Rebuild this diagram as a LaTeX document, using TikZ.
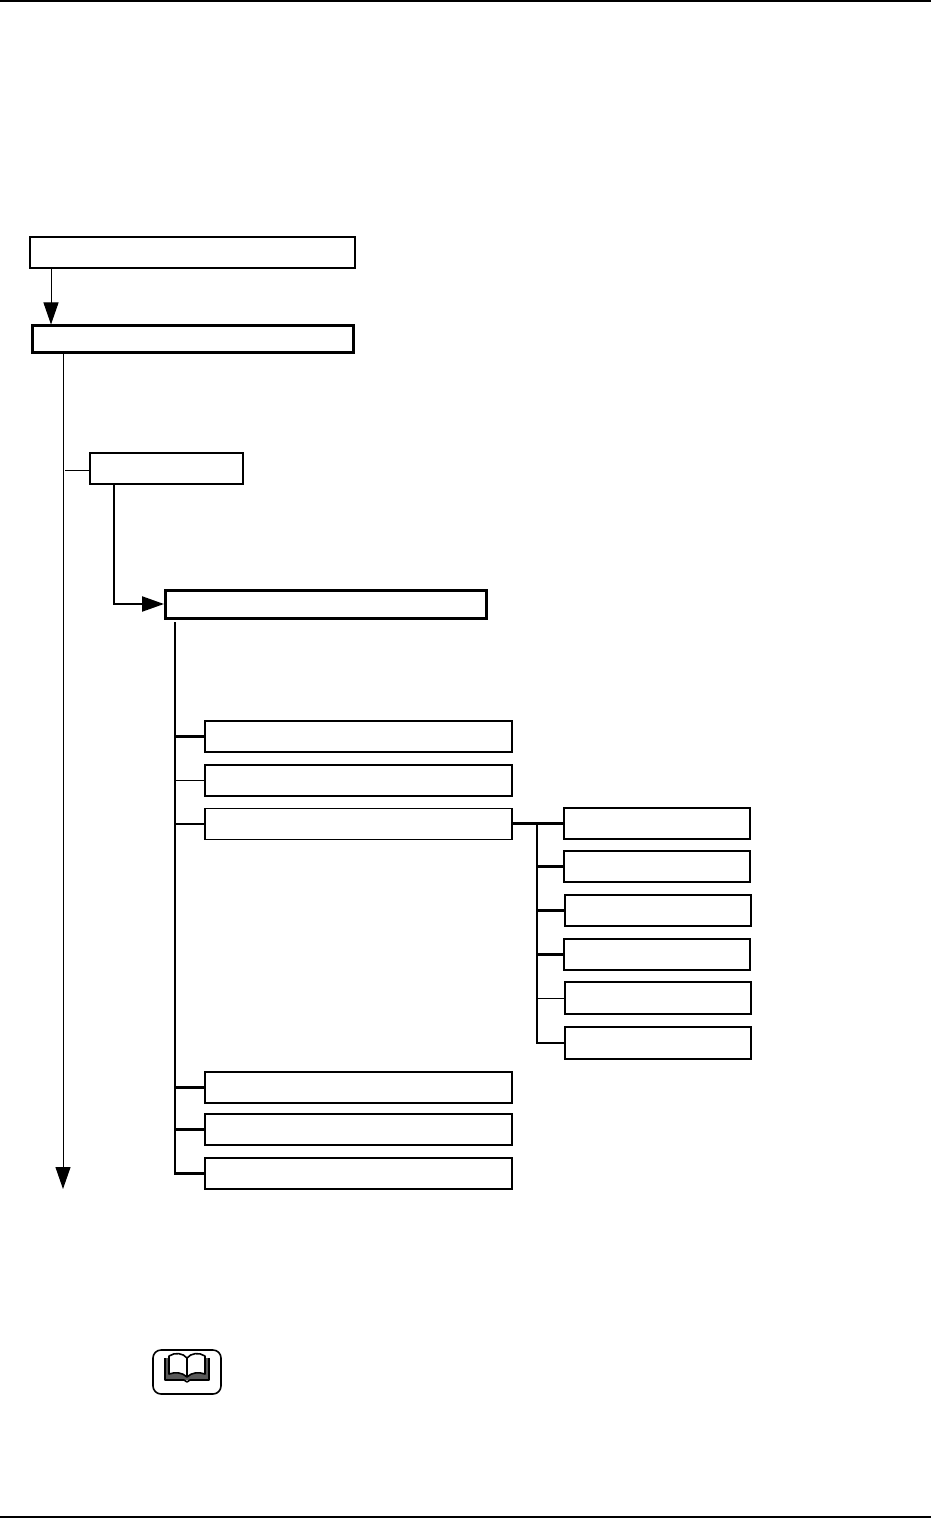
\documentclass[tikz,border=0pt]{standalone}
\usepackage{tikz}
\usetikzlibrary{arrows.meta}
\tikzset{
	item/.style = {draw, line width = 0.7pt, inner sep = 0pt, minimum height = 15.5pt},
	keybox/.style = {draw, line width = 1.5pt, inner sep = 0pt, minimum width = 160.5pt, minimum height = 13.5pt},
	wide/.style = {item, minimum width = 153.5pt},
	narrow/.style = {item, minimum width = 93pt},
	link/.style = {line width = 1.1pt},
	tick/.style = {line width = 0.5pt},
	flow/.style = {-{Triangle[length = 11pt, width = 7.5pt]}, tick},
	rule/.style = {line width = 1pt},
	bookline/.style = {line width = 0.8pt, line join = round}
}

\begin{document}
\begin{tikzpicture}[x = 0.5pt, y = -0.5pt]
		\useasboundingbox (0, 0) rectangle (931, 1518);
		%%%%%%%%%%%%%
		\coordinate (ruleTL) at (0, 1); \coordinate (ruleTR) at (931, 1);
		\coordinate (ruleBL) at (0, 1516.5); \coordinate (ruleBR) at (931, 1516.5);
		\coordinate (mainEnd) at (63, 1189);
		\coordinate (topDrop) at (51, 0);
		\coordinate (subDrop) at (114, 0);
		\coordinate (subTick) at (65, 470);
		\coordinate (trunkTop) at (175, 622);
		\coordinate (forkTop) at (537, 823.5);
		%%%%%%%%%%%%%
		\node [item, minimum width = 162.5pt] (top) at (192.5, 252.5) {};
		\node [keybox] (main) at (193, 339.5) {};
		\node [item, minimum width = 76.5pt] (sub) at (166.5, 468.5) {};
		\node [keybox, minimum height = 14pt] (group) at (326, 604) {};
		%%%%%%%%%%%%%
		\node [wide] (g1) at (358.5, 736.5) {};
		\node [wide] (g2) at (358.5, 780.5) {};
		\node [wide] (g3) at (358.5, 824) {};
		\node [wide] (g4) at (358.5, 1087.5) {};
		\node [wide] (g5) at (358.5, 1129.5) {};
		\node [wide] (g6) at (358.5, 1173.5) {};
		%%%%%%%%%%%%%
		\node [narrow] (r1) at (657, 823.5) {};
		\node [narrow] (r2) at (657, 866.5) {};
		\node [narrow] (r3) at (658, 910.5) {};
		\node [narrow] (r4) at (657, 954.5) {};
		\node [narrow, minimum height = 16pt] (r5) at (658, 998) {};
		\node [narrow, minimum height = 16pt] (r6) at (658, 1043) {};
		%%%%%%%%%%%%%
		\draw [rule] (ruleTL) to (ruleTR);
		\draw [rule] (ruleBL) to (ruleBR);
		\draw [flow] (top.south -| topDrop) to (main.north -| topDrop);
		\draw [flow] (main.south -| mainEnd) to (mainEnd);
		\draw [tick] (subTick) to (subTick -| sub.west);
		\draw [link, -{Triangle[length = 11pt, width = 7.5pt]}] (sub.south -| subDrop) |- (group.west);
		%%%%%%%%%%%%%
		\draw [link] (trunkTop) |- (g6.west);
		\draw [link] (trunkTop |- g1.west) to (g1.west);
		\draw [tick] (trunkTop |- g2.west) to (g2.west);
		\draw [link] (trunkTop |- g3.west) to (g3.west);
		\draw [link] (trunkTop |- g4.west) to (g4.west);
		\draw [link] (trunkTop |- g5.west) to (g5.west);
		%%%%%%%%%%%%%
		\draw [link] (g3.east |- r1.west) to (r1.west);
		\draw [link] (forkTop) |- (r6.west);
		\foreach \i in {2, 3, 4} {
			\draw [link] (forkTop |- r\i.west) to (r\i.west);
		}
		\draw [tick] (forkTop |- r5.west) to (r5.west);
		%%%%%%%%%%%%%
		\draw [bookline, rounded corners = 4pt] (153, 1350) rectangle (221, 1394);
		\fill [black!65] (165, 1358) rectangle (209, 1380);
		\draw [bookline] (165, 1358) -- (165, 1380) -- (184, 1380) -- (187, 1382) -- (190, 1380) -- (209, 1380) -- (209, 1358);
		\draw [bookline, fill = white] (187, 1377) .. controls (182, 1372) and (175, 1372) .. (169, 1374) -- (169, 1356) .. controls (175, 1352) and (183, 1353) .. (187, 1358) .. controls (191, 1353) and (199, 1352) .. (205, 1356) -- (205, 1374) .. controls (199, 1372) and (192, 1372) .. (187, 1377) -- cycle;
		\draw [bookline] (187, 1358) to (187, 1377);
\end{tikzpicture}
\end{document}
